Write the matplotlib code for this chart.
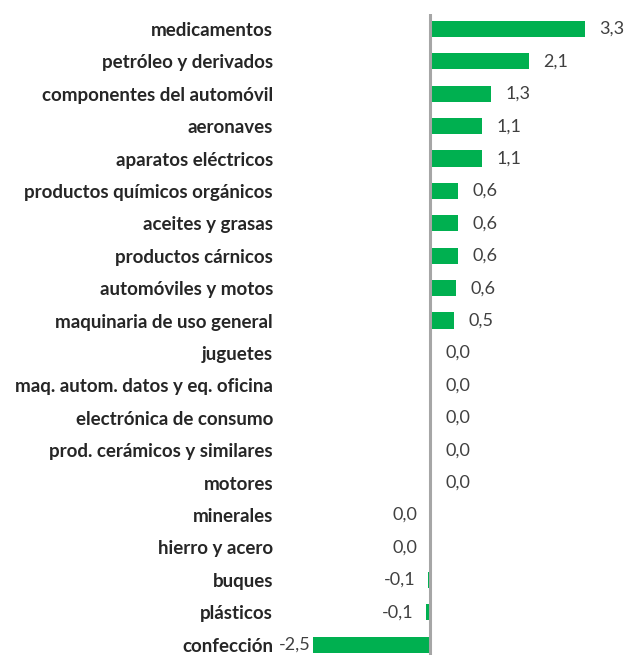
import matplotlib
matplotlib.use('Agg')
import matplotlib.pyplot as plt
import numpy as np

# datos (variación, puntos)
categorias = ['medicamentos', 'petróleo y derivados', 'componentes del automóvil',
              'aeronaves', 'aparatos eléctricos', 'productos químicos orgánicos',
              'aceites y grasas', 'productos cárnicos', 'automóviles y motos',
              'maquinaria de uso general', 'juguetes', 'maq. autom. datos y eq. oficina',
              'electrónica de consumo', 'prod. cerámicos y similares', 'motores',
              'minerales', 'hierro y acero', 'buques', 'plásticos', 'confección']
valores = [3.3, 2.1, 1.3, 1.1, 1.1, 0.6, 0.6, 0.6, 0.55, 0.5,
           0.01, 0.01, 0.01, 0.01, 0.01, -0.01, -0.01, -0.05, -0.09, -2.5]

plt.rcParams['font.family'] = ['Lato', 'DejaVu Sans']

fig = plt.figure(figsize=(6.29, 6.55), dpi=100)
ax = fig.add_axes([280/629, 0, 349/629, 641/655])

y = np.arange(len(categorias))
ax.barh(y, valores, height=0.5, color='#00B050')
ax.axvline(0, color='#A6A6A6', linewidth=2.2, zorder=3)

ax.set_xlim(-(430-280)/47, (629-430)/47)
ax.set_ylim(len(categorias) - 1 + 0.32, -0.46)

ax.set_yticks(y)
ax.set_yticklabels(categorias, fontsize=13.5, fontweight='bold', color='#262626')
ax.tick_params(axis='y', length=0, pad=5)
ax.set_xticks([])
for s in ax.spines.values():
    s.set_visible(False)

for i, v in enumerate(valores):
    txt = '%.1f' % v
    if abs(round(v, 1)) < 0.05:
        txt = '0.0'
    txt = txt.replace('.', ',')
    if v >= 0:
        ax.annotate(txt, (v, i), xytext=(10.5, 0), textcoords='offset points',
                    ha='left', va='center', fontsize=13, color='#404040')
    else:
        pad = 1 if v < -1 else 9
        ax.annotate(txt, (v, i), xytext=(-pad, 0), textcoords='offset points',
                    ha='right', va='center', fontsize=13, color='#404040')

fig.savefig('out.png', dpi=100)
